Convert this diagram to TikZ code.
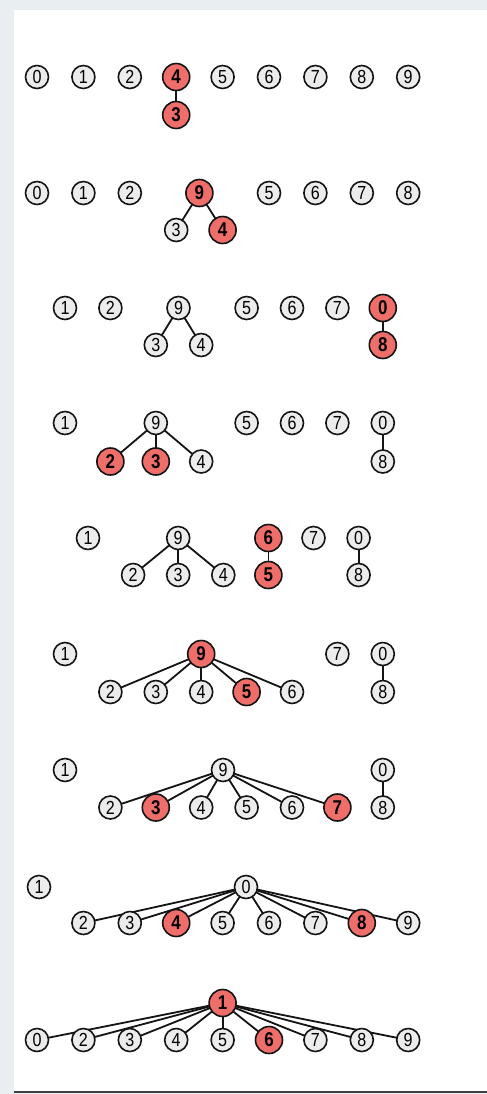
\documentclass[tikz,border=0pt]{standalone}
\usepackage{fontspec}
\setmainfont{Liberation Sans}[FakeStretch=0.85]
\definecolor{bgcol}{RGB}{233,238,240}
\definecolor{nodegray}{RGB}{236,236,236}
\definecolor{nodered}{RGB}{240,110,105}
\definecolor{edgecol}{RGB}{20,20,20}
\pgfdeclarelayer{back}
\pgfdeclarelayer{bg}
\pgfsetlayers{back,bg,main}
\tikzset{
  gnode/.style={circle, draw=edgecol, line width=1.6bp, fill=nodegray, minimum size=23bp, inner sep=0pt, font=\fontsize{19}{19}\selectfont},
  rnode/.style={circle, draw=edgecol, line width=1.6bp, fill=nodered, minimum size=27bp, inner sep=0pt, font=\fontsize{20}{20}\selectfont\bfseries},
  link/.style={draw=edgecol, line width=1.8bp},
}
\begin{document}
\begin{tikzpicture}[x=1bp,y=-1bp]
\useasboundingbox (0,0) rectangle (487,1094);
\begin{pgfonlayer}{back}
\fill[bgcol] (0,0) rectangle (487,1094);
\fill[white] (14,10) rectangle (487,1091);
\draw[line width=2bp, black!75] (14,1092) -- (487,1092);
\end{pgfonlayer}

% Row 1
\node[gnode] (a0) at (37,77) {0};
\node[gnode] (a1) at (83.4,77) {1};
\node[gnode] (a2) at (129.8,77) {2};
\node[rnode] (a4) at (176.2,77) {4};
\node[rnode] (a3) at (176.2,115) {3};
\node[gnode] (a5) at (222.6,77) {5};
\node[gnode] (a6) at (269,77) {6};
\node[gnode] (a7) at (315.4,77) {7};
\node[gnode] (a8) at (361.8,77) {8};
\node[gnode] (a9) at (408.2,77) {9};

% Row 2
\node[gnode] (b0) at (37,193) {0};
\node[gnode] (b1) at (83.4,193) {1};
\node[gnode] (b2) at (129.8,193) {2};
\node[rnode] (b9) at (199.4,193) {9};
\node[gnode] (b3) at (176.2,230) {3};
\node[rnode] (b4) at (222.6,230) {4};
\node[gnode] (b5) at (269,193) {5};
\node[gnode] (b6) at (315.4,193) {6};
\node[gnode] (b7) at (361.8,193) {7};
\node[gnode] (b8) at (408.2,193) {8};

% Row 3
\node[gnode] (c1) at (65,308) {1};
\node[gnode] (c2) at (110.4,308) {2};
\node[gnode] (c9) at (178.5,308) {9};
\node[gnode] (c3) at (155.8,345) {3};
\node[gnode] (c4) at (201.2,345) {4};
\node[gnode] (c5) at (246.6,308) {5};
\node[gnode] (c6) at (292,308) {6};
\node[gnode] (c7) at (337.4,308) {7};
\node[rnode] (c0) at (382.8,308) {0};
\node[rnode] (c8) at (382.8,345) {8};

% Row 4
\node[gnode] (d1) at (65,423) {1};
\node[gnode] (d9) at (155.8,423) {9};
\node[rnode] (d2) at (110.4,461.5) {2};
\node[rnode] (d3) at (155.8,461.5) {3};
\node[gnode] (d4) at (201.2,461.5) {4};
\node[gnode] (d5) at (246.6,423) {5};
\node[gnode] (d6) at (292,423) {6};
\node[gnode] (d7) at (337.4,423) {7};
\node[gnode] (d0) at (382.8,423) {0};
\node[gnode] (d8) at (382.8,461.5) {8};

% Row 5
\node[gnode] (e1) at (88,538) {1};
\node[gnode] (e9) at (178.2,538) {9};
\node[gnode] (e2) at (133.1,575) {2};
\node[gnode] (e3) at (178.2,575) {3};
\node[gnode] (e4) at (223.3,575) {4};
\node[rnode] (e6) at (268.4,538) {6};
\node[rnode] (e5) at (268.4,575) {5};
\node[gnode] (e7) at (313.5,538) {7};
\node[gnode] (e0) at (358.6,538) {0};
\node[gnode] (e8) at (358.6,575) {8};

% Row 6
\node[gnode] (f1) at (65,654) {1};
\node[rnode] (f9) at (201.2,654) {9};
\node[gnode] (f2) at (110.4,692) {2};
\node[gnode] (f3) at (155.8,692) {3};
\node[gnode] (f4) at (201.2,692) {4};
\node[rnode] (f5) at (246.6,692) {5};
\node[gnode] (f6) at (292,692) {6};
\node[gnode] (f7) at (337.4,654) {7};
\node[gnode] (f0) at (382.8,654) {0};
\node[gnode] (f8) at (382.8,692) {8};

% Row 7
\node[gnode] (g1) at (65,770) {1};
\node[gnode] (g9) at (223,770) {9};
\node[gnode] (g2) at (110.4,807.5) {2};
\node[rnode] (g3) at (155.8,807.5) {3};
\node[gnode] (g4) at (201.2,807.5) {4};
\node[gnode] (g5) at (246.6,807.5) {5};
\node[gnode] (g6) at (292,807.5) {6};
\node[rnode] (g7) at (337.4,807.5) {7};
\node[gnode] (g0) at (382.8,770) {0};
\node[gnode] (g8) at (382.8,807.5) {8};

% Row 8
\node[gnode] (h1) at (39,887) {1};
\node[gnode] (h0) at (246,887) {0};
\node[gnode] (h2) at (83.4,923) {2};
\node[gnode] (h3) at (129.8,923) {3};
\node[rnode] (h4) at (176.2,923) {4};
\node[gnode] (h5) at (222.6,923) {5};
\node[gnode] (h6) at (269,923) {6};
\node[gnode] (h7) at (315.4,923) {7};
\node[rnode] (h8) at (361.8,923) {8};
\node[gnode] (h9) at (408.2,923) {9};

% Row 9
\node[rnode] (i1) at (222.6,1003) {1};
\node[gnode] (i0) at (37,1040) {0};
\node[gnode] (i2) at (83.4,1040) {2};
\node[gnode] (i3) at (129.8,1040) {3};
\node[gnode] (i4) at (176.2,1040) {4};
\node[gnode] (i5) at (222.6,1040) {5};
\node[rnode] (i6) at (269,1040) {6};
\node[gnode] (i7) at (315.4,1040) {7};
\node[gnode] (i8) at (361.8,1040) {8};
\node[gnode] (i9) at (408.2,1040) {9};

\begin{pgfonlayer}{bg}
\draw[link] (a4.center) -- (a3.center);
\foreach \c in {3,4} \draw[link] (b9.center) -- (b\c.center);
\foreach \c in {3,4} \draw[link] (c9.center) -- (c\c.center);
\draw[link] (c0.center) -- (c8.center);
\foreach \c in {2,3,4} \draw[link] (d9.center) -- (d\c.center);
\draw[link] (d0.center) -- (d8.center);
\foreach \c in {2,3,4} \draw[link] (e9.center) -- (e\c.center);
\draw[link] (e6.center) -- (e5.center);
\draw[link] (e0.center) -- (e8.center);
\foreach \c in {2,3,4,5,6} \draw[link] (f9.center) -- (f\c.center);
\draw[link] (f0.center) -- (f8.center);
\foreach \c in {2,3,4,5,6,7} \draw[link] (g9.center) -- (g\c.center);
\draw[link] (g0.center) -- (g8.center);
\foreach \c in {2,3,4,5,6,7,8,9} \draw[link] (h0.center) -- (h\c.center);
\foreach \c in {0,2,3,4,5,6,7,8,9} \draw[link] (i1.center) -- (i\c.center);
\end{pgfonlayer}
\end{tikzpicture}
\end{document}
